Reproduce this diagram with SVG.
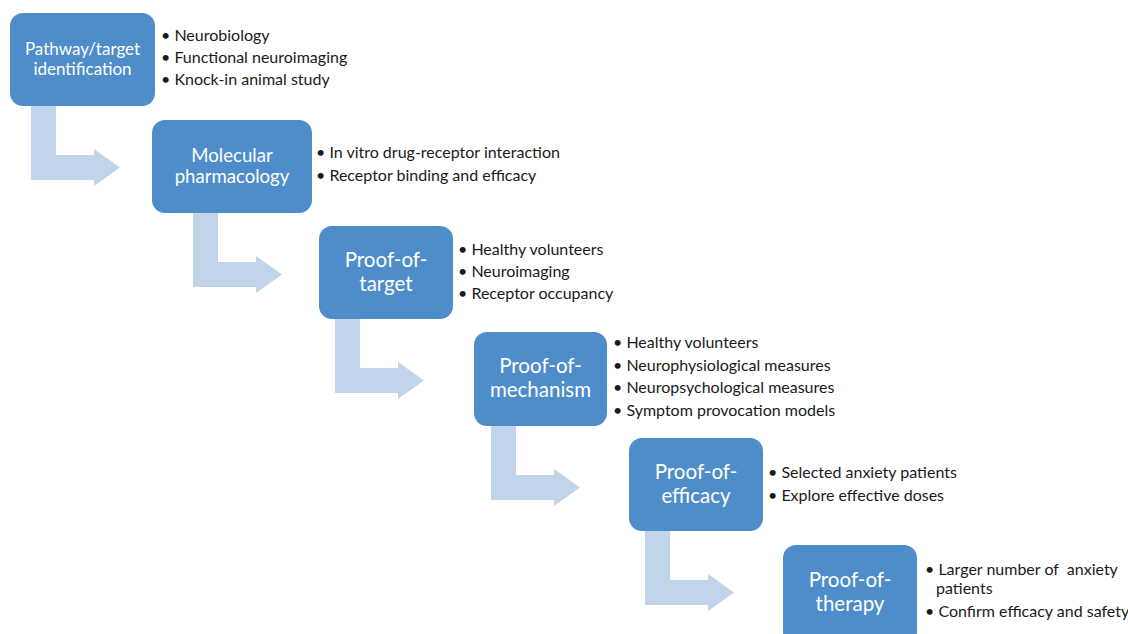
<svg xmlns="http://www.w3.org/2000/svg" width="1128" height="634" viewBox="0 0 1128 634">
  <style>
    .box { fill: #4F8DCA; }
    .flow { fill: #C1D4EA; }
    .title { font-family: Lato, "Liberation Sans", sans-serif; font-size: 20.5px; fill: #FFFFFF; text-anchor: middle; }
    .title.sm { font-size: 17px; }
    .title.md { font-size: 18.6px; }
    .item { font-family: Lato, "Liberation Sans", sans-serif; font-size: 16px; fill: #1A1A1A; white-space: pre; }
  </style>
  <defs>
    <!-- bent arrow: stem down from (0,0), turns right, head points right -->
    <path id="bent" d="M0,0 H25 V49 H63 V43 L89,61.5 L63,80 V74 H0 Z"/>
  </defs>
  <rect width="1128" height="634" fill="#FFFFFF"/>

  <g id="connectors">
    <use href="#bent" class="flow" x="31" y="106"/>
    <use href="#bent" class="flow" x="193" y="213"/>
    <use href="#bent" class="flow" x="335" y="319"/>
    <use href="#bent" class="flow" x="491" y="426"/>
    <use href="#bent" class="flow" x="645" y="531"/>
  </g>

  <g id="node-target-identification">
    <rect class="box" x="10" y="13" width="145" height="93" rx="13"/>
    <text class="title sm" x="82.5" y="55">Pathway/target</text>
    <text class="title sm" x="82.5" y="75">identification</text>
    <text class="item" x="161" y="41">• Neurobiology</text>
    <text class="item" x="161" y="63">• Functional neuroimaging</text>
    <text class="item" x="161" y="85">• Knock-in animal study</text>
  </g>

  <g id="node-molecular-pharmacology">
    <rect class="box" x="152" y="120" width="160" height="93" rx="13"/>
    <text class="title md" x="232" y="162">Molecular</text>
    <text class="title md" x="232" y="183">pharmacology</text>
    <text class="item" x="316" y="158">• In vitro drug-receptor interaction</text>
    <text class="item" x="316" y="181">• Receptor binding and efficacy</text>
  </g>

  <g id="node-proof-of-target">
    <rect class="box" x="319" y="226" width="134" height="93" rx="13"/>
    <text class="title" x="386" y="267">Proof-of-</text>
    <text class="title" x="386" y="291">target</text>
    <text class="item" x="458" y="255">• Healthy volunteers</text>
    <text class="item" x="458" y="277">• Neuroimaging</text>
    <text class="item" x="458" y="299">• Receptor occupancy</text>
  </g>

  <g id="node-proof-of-mechanism">
    <rect class="box" x="474" y="332" width="133" height="94" rx="13"/>
    <text class="title" x="540.5" y="373">Proof-of-</text>
    <text class="title" x="540.5" y="397">mechanism</text>
    <text class="item" x="613" y="348">• Healthy volunteers</text>
    <text class="item" x="613" y="371">• Neurophysiological measures</text>
    <text class="item" x="613" y="393">• Neuropsychological measures</text>
    <text class="item" x="613" y="416">• Symptom provocation models</text>
  </g>

  <g id="node-proof-of-efficacy">
    <rect class="box" x="629" y="438" width="134" height="93" rx="13"/>
    <text class="title" x="696" y="479">Proof-of-</text>
    <text class="title" x="696" y="503">efficacy</text>
    <text class="item" x="768" y="478">• Selected anxiety patients</text>
    <text class="item" x="768" y="501">• Explore effective doses</text>
  </g>

  <g id="node-proof-of-therapy">
    <rect class="box" x="783" y="545" width="134" height="100" rx="13"/>
    <text class="title" x="850" y="587">Proof-of-</text>
    <text class="title" x="850" y="611">therapy</text>
    <text class="item" x="925" y="575">• Larger number of  anxiety</text>
    <text class="item" x="936" y="594">patients</text>
    <text class="item" x="925" y="617">• Confirm efficacy and safety</text>
  </g>
</svg>
